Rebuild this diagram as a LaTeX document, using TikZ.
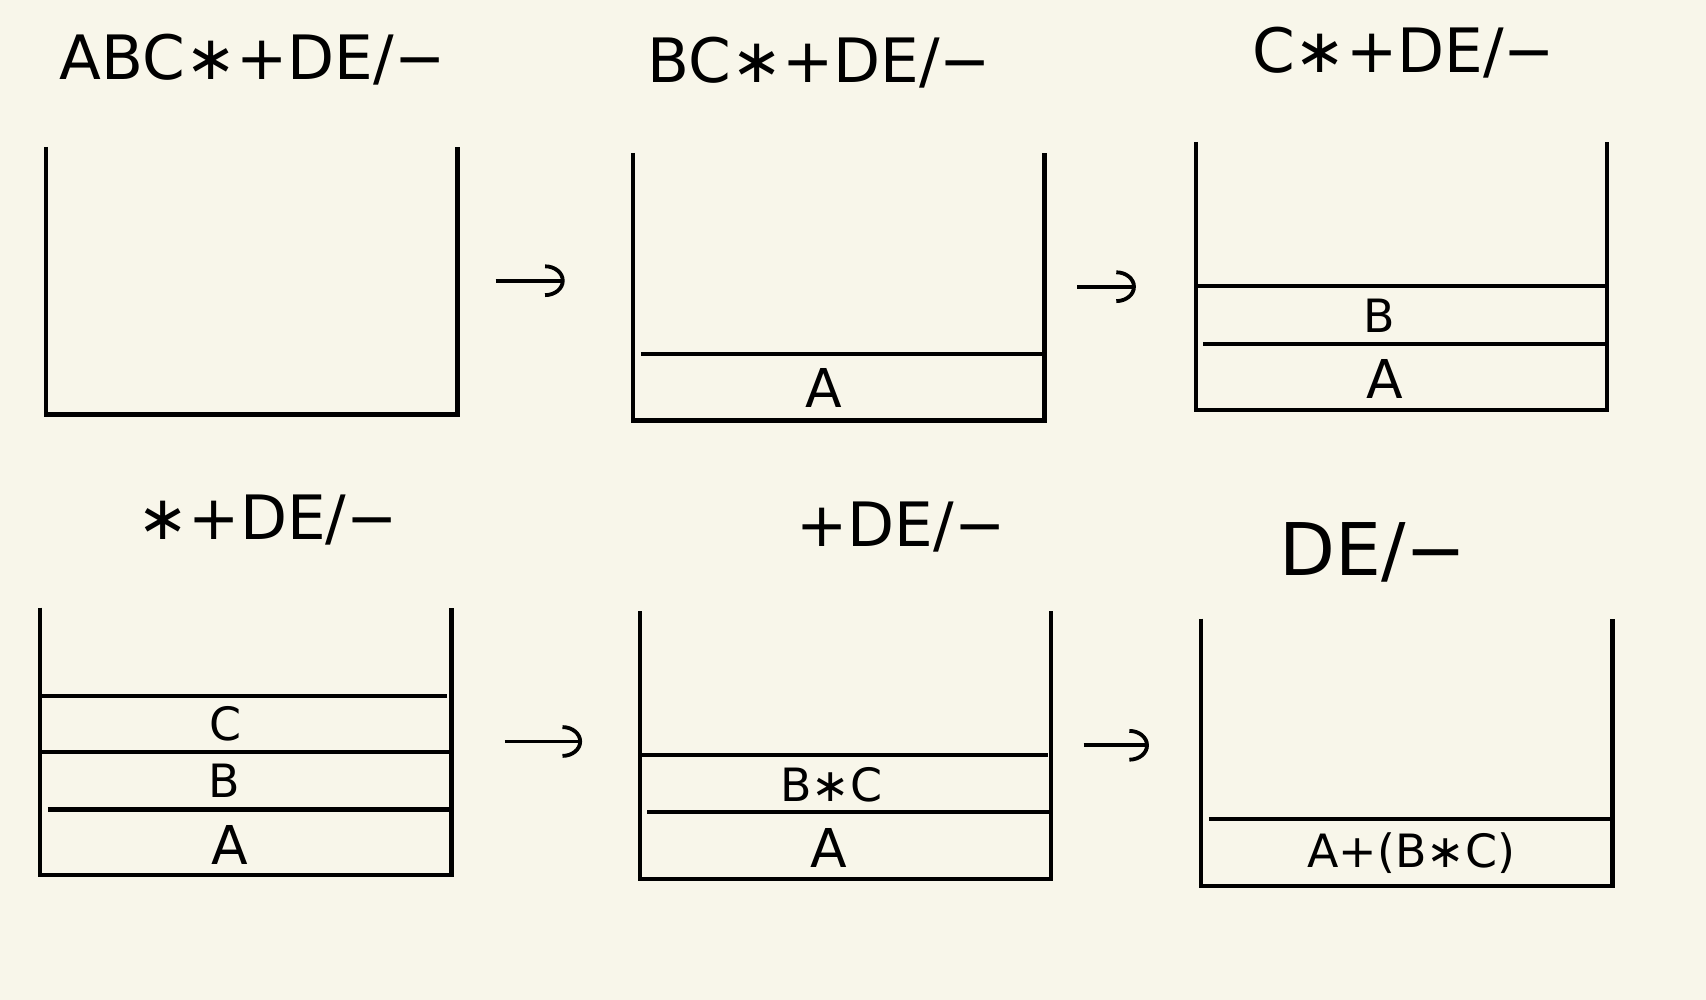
\documentclass[tikz,border=0pt]{standalone}
\usepackage{fontspec}
\setmainfont{DejaVu Sans}
\usetikzlibrary{arrows.meta}
\definecolor{paper}{RGB}{248,246,234}
\begin{document}
\begin{tikzpicture}[x=0.1mm, y=-0.1mm, line width=1.1pt,
    box/.style={minimum width=3.78cm, minimum height=2.46cm, inner sep=0pt, outer sep=0pt},
    expr/.style={font=\fontsize{16}{18}\selectfont},
    item/.style={font=\fontsize{14}{16}\selectfont},
    push/.style={line width=1pt, -{Arc Barb[length=1.8mm, width=3mm]}}]
    \fill[paper] (0,0) rectangle (1568,919);

    % Stacks
    \node[box] (stack1) at (231.5, 258) {};
    \node[box] (stack2) at (771, 263.5) {};
    \node[box] (stack3) at (1288, 253.5) {};
    \node[box] (stack4) at (226, 681.5) {};
    \node[box] (stack5) at (777, 685) {};
    \node[box] (stack6) at (1293, 691.5) {};
    \foreach \s in {stack1, stack2, stack3, stack4, stack5, stack6}
        \draw (\s.north west) -- (\s.south west) -- (\s.south east) -- (\s.north east);

    % Expressions left to read
    \node[expr] (expr1) at (232, 55) {ABC∗+DE/−};
    \node[expr] (expr2) at (753, 58) {BC∗+DE/−};
    \node[expr] (expr3) at (1290, 48) {C∗+DE/−};
    \node[expr] (expr4) at (246, 478) {∗+DE/−};
    \node[expr] (expr5) at (828, 484) {+DE/−};
    \node[expr, font=\fontsize{19}{21}\selectfont] (expr6) at (1262, 508) {DE/−};

    % Dividers
    \draw (589, 325) -- (960, 325);
    \draw (1099, 263) -- (1475, 263);
    \draw (1106, 316) -- (1477, 316);
    \draw (37, 640) -- (411, 640);
    \draw (37, 691) -- (413, 691);
    \draw (44, 744) -- (415, 744);
    \draw (588, 694) -- (963, 694);
    \draw (595, 746) -- (966, 746);
    \draw (1111, 753) -- (1482, 753);

    % Stack contents
    \node[item] (a2) at (757, 357) {A};
    \node[item, font=\fontsize{12}{14}\selectfont] (b3) at (1268, 290) {B};
    \node[item] (a3) at (1273, 348) {A};
    \node[item, font=\fontsize{12}{14}\selectfont] (c4) at (207, 665) {C};
    \node[item, font=\fontsize{12}{14}\selectfont] (b4) at (206, 718) {B};
    \node[item] (a4) at (211, 777) {A};
    \node[item, font=\fontsize{12}{14}\selectfont] (bc5) at (764, 721) {B∗C};
    \node[item] (a5) at (762, 779) {A};
    \node[item, font=\fontsize{12}{14}\selectfont] (abc6) at (1297, 784) {A+(B∗C)};

    % Arrows
    \draw[push, shorten <=3.5mm, shorten >=6.3mm] (stack1.east) -- (stack1.east -| stack2.west);
    \draw[push, shorten <=3mm, shorten >=5.5mm] (stack2.east) -- (stack2.east -| stack3.west);
    \draw[push, shorten <=4.9mm, shorten >=5.3mm] (stack4.east) -- (stack4.east -| stack5.west);
    \draw[push, shorten <=3mm, shorten >=4.8mm] (stack5.east) -- (stack5.east -| stack6.west);
\end{tikzpicture}
\end{document}
